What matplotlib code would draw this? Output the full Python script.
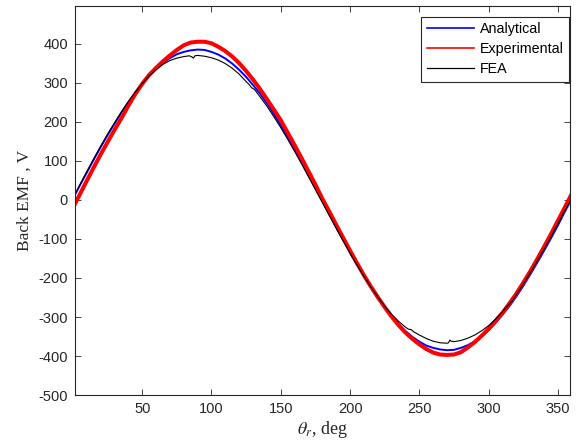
import matplotlib
matplotlib.use("Agg")
import matplotlib.pyplot as plt

# rotor angle, deg (5 deg steps)
theta = list(range(0, 361, 5))

# Analytical back EMF, V
emf_analytical = [3, 37, 70, 103, 135, 166, 195, 224, 250, 275, 298, 318, 336, 351, 363,
                  373, 379, 383, 385, 384, 379, 372, 362, 349, 333, 315, 294, 272, 247,
                  220, 191, 161, 130, 98, 65, 30, -3, -37, -70, -103, -135, -166, -195,
                  -224, -250, -275, -298, -318, -336, -351, -363, -373, -379, -383, -385,
                  -384, -379, -372, -362, -349, -333, -315, -294, -272, -247, -220, -191,
                  -161, -130, -98, -65, -30, 3]

# Experimental back EMF, V
emf_experimental = [-20, 14, 49, 83, 116, 148, 179, 209, 241, 271, 297, 320, 338, 355, 370,
                    384, 396, 403, 405, 405, 401, 392, 381, 367, 350, 330, 308, 284, 258,
                    231, 204, 172, 140, 107, 73, 39, 3, -30, -64, -97, -130, -162, -193,
                    -222, -249, -275, -299, -321, -340, -356, -370, -382, -391, -396, -397,
                    -396, -390, -378, -364, -348, -330, -310, -289, -265, -240, -212, -183,
                    -152, -120, -87, -53, -19, 16]

# FEA back EMF, V (extra points around the slot notches)
theta_fea = [0, 5, 10, 15, 20, 25, 30, 35, 40, 45, 50, 55, 60, 65, 70, 75, 80, 84, 86, 87,
             88, 90, 95, 100, 105, 110, 115, 120, 125, 127, 129, 131, 135, 140, 145, 150,
             155, 160, 165, 170, 175, 180, 185, 190, 195, 200, 205, 210, 215, 220, 225,
             230, 235, 240, 242, 244, 246, 250, 255, 260, 265, 270, 271, 272, 273, 275,
             280, 285, 290, 295, 300, 305, 310, 315, 317, 319, 320, 325, 330, 335, 340,
             345, 350, 355, 360]
emf_fea = [4, 38, 72, 105, 137, 168, 197, 225, 252, 276, 298, 317, 333, 347, 357, 363, 367,
           369, 366, 363, 369, 370, 368, 364, 358, 349, 337, 322, 303, 296, 287, 283, 264,
           240, 213, 185, 155, 124, 92, 59, 26, -7, -40, -73, -105, -137, -167, -196, -223,
           -249, -272, -293, -311, -326, -331, -332, -338, -346, -355, -362, -366, -367,
           -366, -359, -362, -363, -360, -354, -346, -335, -322, -305, -286, -266, -259,
           -249, -243, -216, -187, -157, -126, -94, -61, -27, 4]

plt.rcParams["mathtext.fontset"] = "stix"
plt.rcParams["axes.unicode_minus"] = False
dark = "#262626"

fig = plt.figure(figsize=(5.79, 4.48), dpi=100)
ax = fig.add_axes([0.1295, 0.118, 0.855, 0.869])

ax.plot(theta, emf_analytical, color="#0000ff", lw=1.4, label="Analytical")
ax.plot(theta, emf_experimental, color="#ff0000", lw=2.9, label="Experimental")
ax.plot(theta_fea, emf_fea, color="black", lw=0.8, label="FEA")

ax.set_xlim(1.5, 358.7)
ax.set_ylim(-500, 497)
ax.set_xticks(range(50, 351, 50))
ax.set_yticks(range(-500, 401, 100))

for sp in ax.spines.values():
    sp.set_color(dark)
    sp.set_linewidth(0.8)
ax.tick_params(direction="in", top=True, right=True, length=4.5, width=0.6,
               colors=dark, labelsize=10.5, pad=5)
for lab in ax.get_xticklabels() + ax.get_yticklabels():
    lab.set_family("Liberation Sans")

ax.set_ylabel("Back EMF , V", family="Liberation Serif", fontsize=12.5, color=dark,
              labelpad=4)
ax.set_xlabel(r"$\theta_r$, deg", family="Liberation Serif", fontsize=13, color=dark,
              labelpad=2)

leg = ax.legend(loc="upper right", bbox_to_anchor=(0.9985, 0.972),
                prop={"family": "Liberation Sans", "size": 10.3}, handlelength=3.3,
                fancybox=False, framealpha=1, borderpad=0.4, labelspacing=0.4,
                handletextpad=0.4, borderaxespad=0)
leg.get_frame().set_edgecolor(dark)
leg.get_frame().set_linewidth(0.8)
for ln, w in zip(leg.get_lines(), [1.2, 1.2, 0.9]):
    ln.set_linewidth(w)

fig.savefig("out.png", dpi=100)
